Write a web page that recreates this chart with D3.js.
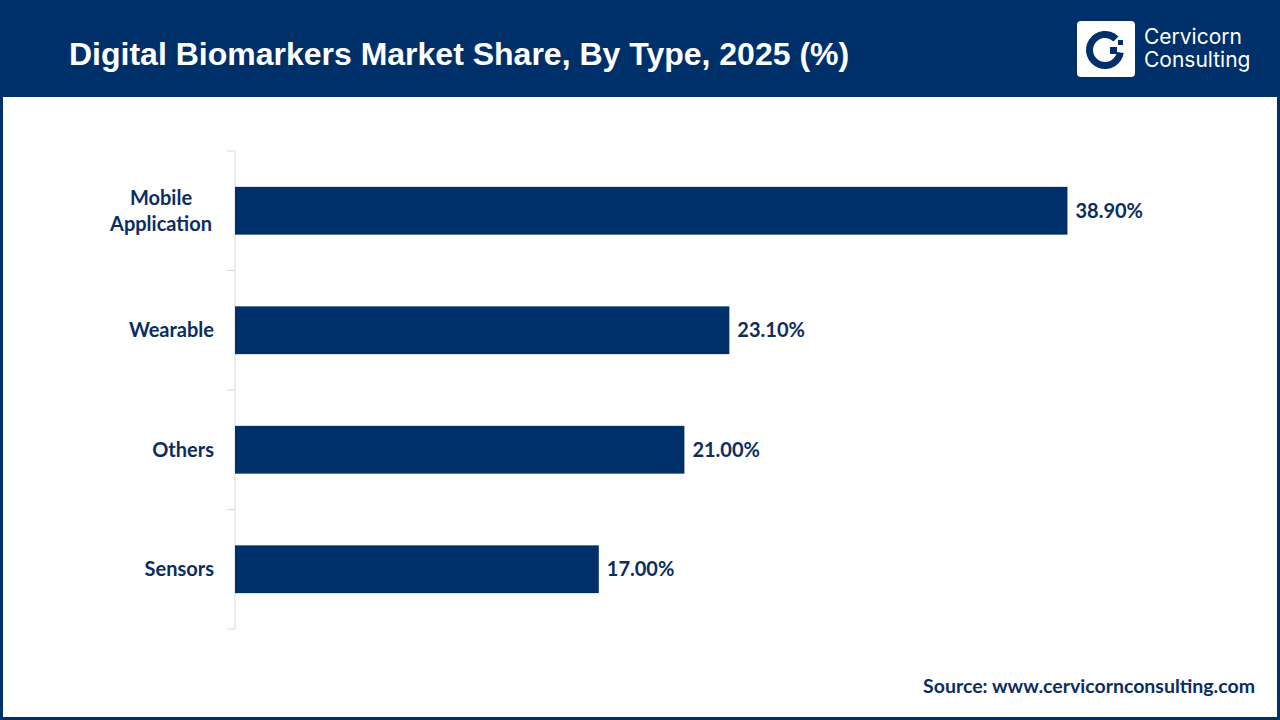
<!DOCTYPE html>
<html>
<head>
    <title>Digital Biomarkers Market Share, By Type, 2025 (%)</title>
    <script src="https://d3js.org/d3.v7.min.js"></script>
    <style>
        body { margin: 0; background: #fff; }
        svg { display: block; }
    </style>
</head>
<body>
    <div id="chart"></div>
    <script>
        const categories = ["Mobile Application", "Wearable", "Others", "Sensors"];
        const shares = [38.9, 23.1, 21.0, 17.0];
        const categoryLines = [["Mobile", "Application"], ["Wearable"], ["Others"], ["Sensors"]];

        const width = 1280, height = 720;
        const navy = "#00306a";
        const textNavy = "#0b2d5f";

        const svg = d3.select("#chart").append("svg")
            .attr("width", width)
            .attr("height", height);

        // frame + header
        svg.append("rect").attr("x", 0).attr("y", 0).attr("width", width).attr("height", height).attr("fill", navy);
        svg.append("rect").attr("x", 3).attr("y", 97).attr("width", width - 6).attr("height", height - 100).attr("fill", "#fff");

        svg.append("text")
            .attr("x", 69).attr("y", 65)
            .attr("font-family", "Liberation Sans, Arial, sans-serif")
            .attr("font-weight", "bold")
            .attr("font-size", 32)
            .attr("fill", "#fff")
            .text("Digital Biomarkers Market Share, By Type, 2025 (%)");

        // logo
        const logo = svg.append("g").attr("transform", "translate(1077,21)");
        logo.append("rect").attr("width", 58).attr("height", 56).attr("rx", 4).attr("fill", "#fff");
        const ring = d3.arc().innerRadius(12).outerRadius(19).startAngle(Math.PI * 0.55).endAngle(Math.PI * 2.25);
        logo.append("path").attr("d", ring()).attr("transform", "translate(28,29)").attr("fill", navy);
        logo.append("rect").attr("x", 33).attr("y", 26).attr("width", 7).attr("height", 7).attr("fill", navy);
        logo.append("rect").attr("x", 41).attr("y", 19).attr("width", 5).attr("height", 5).attr("fill", navy);
        const logoText = ["Cervicorn", "Consulting"];
        svg.append("g")
            .attr("font-family", "Inter, Open Sans, sans-serif")
            .attr("font-size", 21)
            .attr("fill", "#fff")
            .selectAll("text").data(logoText).join("text")
            .attr("x", 1144)
            .attr("y", (d, i) => 44 + i * 23)
            .text(d => d);

        // scales
        const x = d3.scaleLinear().domain([0, 45]).range([235, 1198]);
        const y = d3.scaleBand().domain(categories).range([151, 629]).paddingInner(0.6).paddingOuter(0.3);

        // axis
        const axis = d3.axisLeft(y).tickSize(0).tickFormat("");
        const axisG = svg.append("g").attr("transform", "translate(235,0)").call(axis);
        axisG.select(".domain").attr("stroke", "#d9d9d9").attr("d", "M0,151V629");
        const boundaries = d3.range(categories.length + 1).map(i => 151 + i * (478 / categories.length));
        axisG.selectAll(".bound").data(boundaries).join("line")
            .attr("class", "bound")
            .attr("x1", -8).attr("x2", 0)
            .attr("y1", d => d).attr("y2", d => d)
            .attr("stroke", "#d9d9d9");

        // category labels
        const labelG = svg.append("g")
            .attr("font-family", "Lato, Open Sans, sans-serif")
            .attr("font-weight", "bold")
            .attr("font-size", 20)
            .attr("fill", textNavy);
        labelG.selectAll("text").data(categories).join("text")
            .attr("y", d => y(d) + y.bandwidth() / 2)
            .each(function(d, i) {
                const lines = categoryLines[i];
                const t = d3.select(this);
                lines.forEach((ln, j) => {
                    t.append("tspan")
                        .attr("x", lines.length > 1 ? 161 : 214)
                        .attr("text-anchor", lines.length > 1 ? "middle" : "end")
                        .attr("dy", j === 0 ? (0.35 - (lines.length - 1) * 0.65) + "em" : "1.3em")
                        .text(ln);
                });
            });

        // bars
        svg.append("g").selectAll("rect").data(shares).join("rect")
            .attr("x", x(0))
            .attr("y", (d, i) => y(categories[i]))
            .attr("width", d => x(d) - x(0))
            .attr("height", y.bandwidth())
            .attr("fill", navy);

        // values
        svg.append("g")
            .attr("font-family", "Lato, Open Sans, sans-serif")
            .attr("font-weight", "bold")
            .attr("font-size", 20)
            .attr("fill", textNavy)
            .selectAll("text").data(shares).join("text")
            .attr("x", d => x(d) + 8)
            .attr("y", (d, i) => y(categories[i]) + y.bandwidth() / 2)
            .attr("dy", "0.35em")
            .text(d => d.toFixed(2) + "%");

        // source
        svg.append("text")
            .attr("x", 1255).attr("y", 693)
            .attr("text-anchor", "end")
            .attr("font-family", "Lato, Open Sans, sans-serif")
            .attr("font-weight", "bold")
            .attr("font-size", 19.5)
            .attr("fill", textNavy)
            .text("Source: www.cervicornconsulting.com");
    </script>
</body>
</html>
